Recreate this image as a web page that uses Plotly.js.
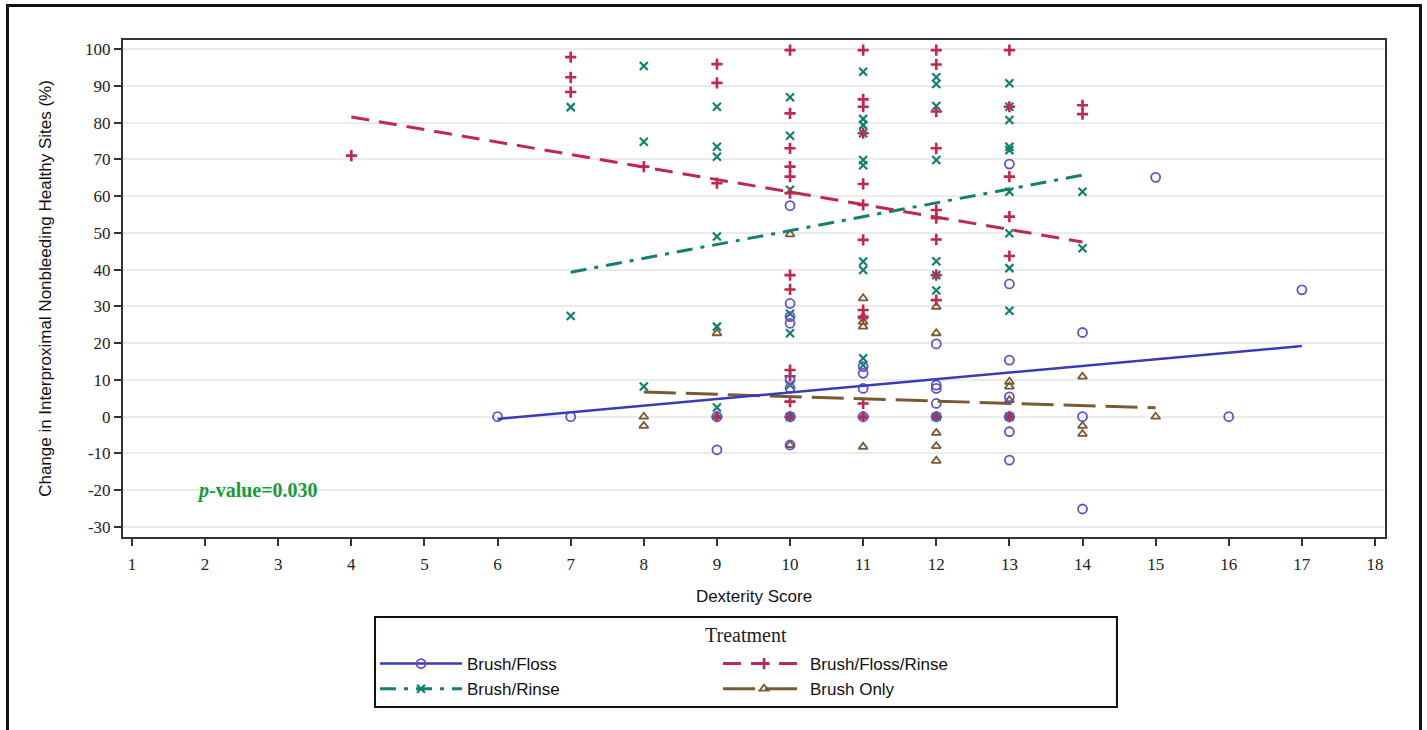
<!DOCTYPE html>
<html>
<head>
<meta charset="utf-8">
<script src="https://cdn.plot.ly/plotly-3.0.1.min.js"></script>
<style>
  html, body { margin:0; padding:0; background:#fff; }
  #wrap { position:relative; width:1427px; height:730px; overflow:hidden; }
  #chart { width:1427px; height:730px; }
  #frame { position:absolute; left:6px; top:4px; width:1410px; height:800px; border:3px solid #111; pointer-events:none; }
</style>
</head>
<body>
<div id="wrap"><div id="chart"></div><div id="frame"></div></div>
<script>
// ---- data ----
const groupNames = ["Brush/Floss", "Brush/Floss/Rinse", "Brush/Rinse", "Brush Only"];
const legendTitle = "Treatment";

// Brush/Floss (open circles)
const bfX = [6,7,9,9,10,10,10,10,10,10,10,10,11,11,11,11,12,12,12,12,12,13,13,13,13,13,13,13,14,14,14,15,16,17];
const bfY = [0,0,0,-9,57.4,30.8,27.2,25.4,10,7.8,0,-7.7,13.6,11.8,7.7,0,19.8,8.6,7.7,3.6,0,68.7,36.1,15.4,5.4,0,-4.1,-11.8,22.9,0,-25.1,65.1,0,34.5];

// Brush/Floss/Rinse (plus)
const bfrX = [4,7,7,7,8,9,9,9,9,10,10,10,10,10,10,10,10,10,10,10,10,11,11,11,11,11,11,11,11,11,11,11,12,12,12,12,12,12,12,12,12,12,13,13,13,13,13,13,14,14];
const bfrY = [71,97.8,92.3,88.3,68,95.9,90.8,63.5,0,99.7,82.5,73,68,65.3,60.8,38.5,34.6,12.7,11,4.1,0,99.7,86.3,84.3,77.1,63.3,57.6,48.1,29,27.2,3.6,0,99.7,95.8,83,73,56.2,54,48.2,38.5,31.7,0,99.7,84.3,65.3,54.4,43.7,0,84.7,82.3];

// Brush/Rinse (x)
const brX = [7,7,8,8,8,9,9,9,9,9,9,10,10,10,10,10,10,10,11,11,11,11,11,11,11,11,11,11,12,12,12,12,12,12,12,12,13,13,13,13,13,13,13,13,13,13,14,14];
const brY = [84.2,27.4,95.4,74.8,8.2,84.3,73.4,70.7,49,24.5,2.5,86.9,76.4,61.7,28,22.7,8.6,0,93.8,81,79.3,77.1,69.8,68.4,42.2,39.9,15.9,14,92.3,90.5,84.5,69.8,42.3,38.5,34.3,0,90.7,84.3,80.7,73.4,72.5,61.2,49.9,40.4,28.8,0,61.2,45.8];

// Brush Only (triangles)
const boX = [8,8,9,9,10,10,10,11,11,11,11,11,11,12,12,12,12,12,12,13,13,13,13,14,14,14,15];
const boY = [0,-2.5,22.7,0,49.6,0,-7.7,32.2,27.2,25.8,24.5,0,-8.2,29.9,22.7,0,-4.4,-8.0,-12.0,9.5,8.2,4.5,0,10.9,-2.5,-4.7,0];

// fitted regression lines (end points)
const fitBFx = [6, 17],  fitBFy = [-0.6, 19.2];
const fitBFRx = [4, 14], fitBFRy = [81.5, 47.5];
const fitBRx = [7, 14],  fitBRy = [39.3, 65.7];
const fitBOx = [8, 15],  fitBOy = [6.7, 2.4];

const xTicks = [1,2,3,4,5,6,7,8,9,10,11,12,13,14,15,16,17,18];
const yTicks = [-30,-20,-10,0,10,20,30,40,50,60,70,80,90,100];

// ---- styles ----
const colBlue = "#3b3bb6", colBlueMk = "#5d55c9";
const colRed = "#c0294f";
const colTeal = "#13806f";
const colBrown = "#7a5a32";

const styles = [
  {name: groupNames[0], legend: "legend", line: {color: colBlue, width: 2.5, dash: "solid"},
   marker: {symbol: "circle-open", size: 9, color: colBlueMk, line: {width: 1.8, color: colBlueMk}}},
  {name: groupNames[1], legend: "legend2", line: {color: colRed, width: 3, dash: "18px,10px"},
   marker: {symbol: "cross-thin-open", size: 8, color: colRed, line: {width: 2.6, color: colRed}}},
  {name: groupNames[2], legend: "legend", line: {color: colTeal, width: 3, dash: "16px,8px,4px,8px"},
   marker: {symbol: "x-thin-open", size: 8, color: colTeal, line: {width: 2.2, color: colTeal}}},
  {name: groupNames[3], legend: "legend2", line: {color: colBrown, width: 3, dash: "32px,10px"},
   marker: {symbol: "triangle-up-open", size: 8, color: colBrown, line: {width: 1.8, color: colBrown}}}
];

const pts = [[bfX,bfY],[bfrX,bfrY],[brX,brY],[boX,boY]];
const fits = [[fitBFx,fitBFy],[fitBFRx,fitBFRy],[fitBRx,fitBRy],[fitBOx,fitBOy]];

const traces = [];
[3,2,1,0].forEach(i => {
  traces.push({x: pts[i][0], y: pts[i][1], type: "scatter", mode: "markers",
    marker: styles[i].marker, showlegend: false, hoverinfo: "x+y", name: styles[i].name});
});
[3,2,1,0].forEach(i => {
  traces.push({x: fits[i][0], y: fits[i][1], type: "scatter", mode: "lines",
    line: styles[i].line, showlegend: false, hoverinfo: "skip", name: styles[i].name});
});
styles.forEach(s => {
  traces.push({x: [null], y: [null], type: "scatter", mode: "lines+markers",
    name: s.name, line: s.line, marker: s.marker, showlegend: true, legend: s.legend});
});

// legend box geometry (paper coords)
const lgX0 = 0.1997, lgX1 = 0.7876, lgY0 = -0.161, lgY1 = -0.342;
const lgCol2 = 0.4715, lgRowTop = -0.2194;

const legendCommon = {
  orientation: "v", xanchor: "left", yanchor: "top", y: lgRowTop,
  itemwidth: 82, bgcolor: "rgba(0,0,0,0)", borderwidth: 0,
  font: {family: "Liberation Sans, Arial, sans-serif", size: 17, color: "#111"},
  traceorder: "normal", tracegroupgap: 0
};

const layout = {
  width: 1427, height: 730,
  margin: {l: 123, r: 42, t: 40, b: 193},
  paper_bgcolor: "#fff", plot_bgcolor: "#fff",
  showlegend: true,
  xaxis: {
    range: [0.877, 18.137], tickvals: xTicks, ticktext: xTicks.map(String),
    ticks: "outside", ticklen: 7, tickwidth: 2, tickcolor: "#333",
    ticklabelstandoff: 4,
    showgrid: false, zeroline: false,
    showline: true, linecolor: "#333", linewidth: 2, mirror: true,
    tickfont: {family: "Liberation Serif, Times New Roman, serif", size: 17, color: "#222"},
    title: {text: "Dexterity Score", standoff: 17,
      font: {family: "Liberation Sans, Arial, sans-serif", size: 17, color: "#111"}}
  },
  yaxis: {
    range: [-32.72, 102.45], tickvals: yTicks, ticktext: yTicks.map(String),
    ticks: "outside", ticklen: 7, tickwidth: 2, tickcolor: "#333",
    showgrid: true, gridcolor: "#ebebeb", gridwidth: 2, zeroline: false,
    showline: true, linecolor: "#333", linewidth: 2, mirror: true,
    tickfont: {family: "Liberation Serif, Times New Roman, serif", size: 17, color: "#222"},
    title: {text: "Change in Interproximal Nonbleeding Healthy Sites (%)", standoff: 29,
      font: {family: "Liberation Sans, Arial, sans-serif", size: 17, color: "#111"}}
  },
  legend: Object.assign({}, legendCommon, {x: lgX0}),
  legend2: Object.assign({}, legendCommon, {x: lgCol2}),
  shapes: [{
    type: "rect", xref: "paper", yref: "paper", x0: lgX0, x1: lgX1, y0: lgY0, y1: lgY1,
    line: {color: "#111", width: 2}, fillcolor: "rgba(0,0,0,0)", layer: "above"
  }],
  annotations: [{
    x: 2.72, y: -20, xref: "x", yref: "y", showarrow: false,
    text: "<b><i>p</i>-value=0.030</b>",
    font: {family: "Liberation Serif, Times New Roman, serif", size: 20, color: "#1a9a3c"}
  }, {
    x: (lgX0 + lgX1) / 2, y: -0.197, xref: "paper", yref: "paper", showarrow: false,
    text: legendTitle, yanchor: "middle",
    font: {family: "Liberation Serif, Times New Roman, serif", size: 20, color: "#222"}
  }]
};

Plotly.newPlot("chart", traces, layout, {displayModeBar: false, staticPlot: true});
</script>
</body>
</html>
